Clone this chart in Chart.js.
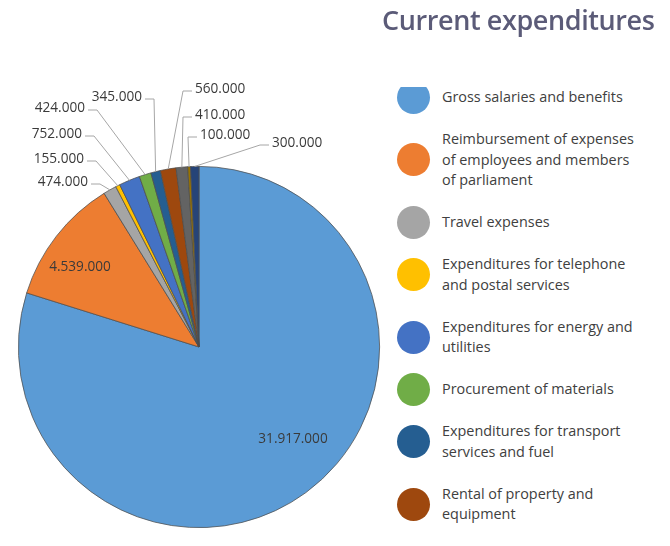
<!DOCTYPE html>
<html>
<head>
<meta charset="utf-8">
<script src="https://cdn.jsdelivr.net/npm/chart.js@4/dist/chart.umd.min.js"></script>
<style>
  html, body { margin: 0; padding: 0; background: #fff; width: 670px; height: 546px; overflow: hidden; font-family: "Open Sans", sans-serif; }
  #wrap { position: relative; width: 670px; height: 546px; }
  #pie { position: absolute; left: 0; top: 0; }
  #title { position: absolute; left: 382px; top: 1px; font-size: 27px; font-weight: 600; color: #5b5b78; white-space: nowrap; letter-spacing: -0.4px; }
  #legend { position: absolute; left: 397px; top: 87px; width: 273px; height: 445px; overflow: hidden; }
  .item { position: relative; padding-left: 45px; margin-bottom: 21.2px; }
  .dot { position: absolute; left: 0; top: 50%; width: 33px; height: 33px; margin-top: -16.5px; border-radius: 50%; }
  .txt { font-size: 14.4px; line-height: 20.7px; color: #404040; white-space: nowrap; }
</style>
</head>
<body>
<div id="wrap">
  <canvas id="pie" width="390" height="546"></canvas>
  <div id="title">Current expenditures</div>
  <div id="legend"></div>
</div>
<script>
// categories (multi-line as shown in the legend)
const categories = [
    ['Gross salaries and benefits'],
    ['Reimbursement of expenses', 'of employees and members', 'of parliament'],
    ['Travel expenses'],
    ['Expenditures for telephone', 'and postal services'],
    ['Expenditures for energy and', 'utilities'],
    ['Procurement of materials'],
    ['Expenditures for transport', 'services and fuel'],
    ['Rental of property and', 'equipment'],
    ['Other services'],
    ['Expenditures for maintenance'],
    ['Other current expenditures']
];
const values = [31917000, 4539000, 474000, 155000, 752000, 424000, 345000, 560000, 410000, 100000, 300000];
const colors = ['#5B9BD5', '#ED7D31', '#A5A5A5', '#FFC000', '#4472C4', '#70AD47', '#255E91', '#9E480E', '#636363', '#997300', '#264478'];

// where each value label sits (inside labels centred, outside labels with a leader line)
const labelLayout = [
    { inside: true, x: 293, y: 439 },
    { inside: true, x: 80, y: 267 },
    { x: 88, y: 182, align: 'right' },
    { x: 84, y: 159, align: 'right' },
    { x: 82, y: 134, align: 'right' },
    { x: 85, y: 108, align: 'right' },
    { x: 142, y: 97, align: 'right' },
    { x: 195, y: 89, align: 'left' },
    { x: 195, y: 115, align: 'left' },
    { x: 200, y: 135, align: 'left' },
    { x: 272, y: 143, align: 'left' }
];

function fmt(v) {
    return String(v).replace(/\B(?=(\d{3})+(?!\d))/g, '.');
}

// value labels + leader lines
const valueLabels = {
    id: 'valueLabels',
    afterDatasetsDraw(chart) {
        const ctx = chart.ctx;
        const meta = chart.getDatasetMeta(0);
        ctx.save();
        ctx.font = '13.6px "Open Sans"';
        ctx.fillStyle = '#3a3a3a';
        ctx.textBaseline = 'middle';
        meta.data.forEach((arc, i) => {
            const lay = labelLayout[i];
            const text = fmt(values[i]);
            if (lay.inside) {
                ctx.textAlign = 'center';
                ctx.fillText(text, lay.x, lay.y);
                return;
            }
            const p = arc.getProps(['x', 'y', 'startAngle', 'endAngle', 'outerRadius'], true);
            const mid = (p.startAngle + p.endAngle) / 2;
            const ex = p.x + Math.cos(mid) * p.outerRadius;
            const ey = p.y + Math.sin(mid) * p.outerRadius;
            const dir = lay.align === 'right' ? 1 : -1;
            const sx = lay.x + dir * 3;
            const ly = lay.y + 2;
            ctx.strokeStyle = '#a6a6a6';
            ctx.lineWidth = 1;
            ctx.beginPath();
            ctx.moveTo(sx, ly);
            ctx.lineTo(sx + dir * 9, ly);
            ctx.lineTo(ex, ey);
            ctx.stroke();
            ctx.textAlign = lay.align;
            ctx.fillText(text, lay.x, lay.y);
        });
        ctx.restore();
    }
};

new Chart(document.getElementById('pie'), {
    type: 'pie',
    data: {
        labels: categories,
        datasets: [{
            data: values,
            backgroundColor: colors,
            borderColor: '#4d4d4d',
            borderWidth: 0.75
        }]
    },
    options: {
        responsive: false,
        animation: false,
        layout: { padding: { left: 18, top: 166, right: 10, bottom: 18 } },
        plugins: {
            legend: { display: false },
            tooltip: { enabled: false }
        }
    },
    plugins: [valueLabels]
});

// legend on the right
const legendEl = document.getElementById('legend');
categories.forEach((lines, i) => {
    const item = document.createElement('div');
    item.className = 'item';
    const dot = document.createElement('div');
    dot.className = 'dot';
    dot.style.background = colors[i];
    const txt = document.createElement('div');
    txt.className = 'txt';
    txt.innerHTML = lines.join('<br>');
    item.appendChild(dot);
    item.appendChild(txt);
    legendEl.appendChild(item);
});
</script>
</body>
</html>
